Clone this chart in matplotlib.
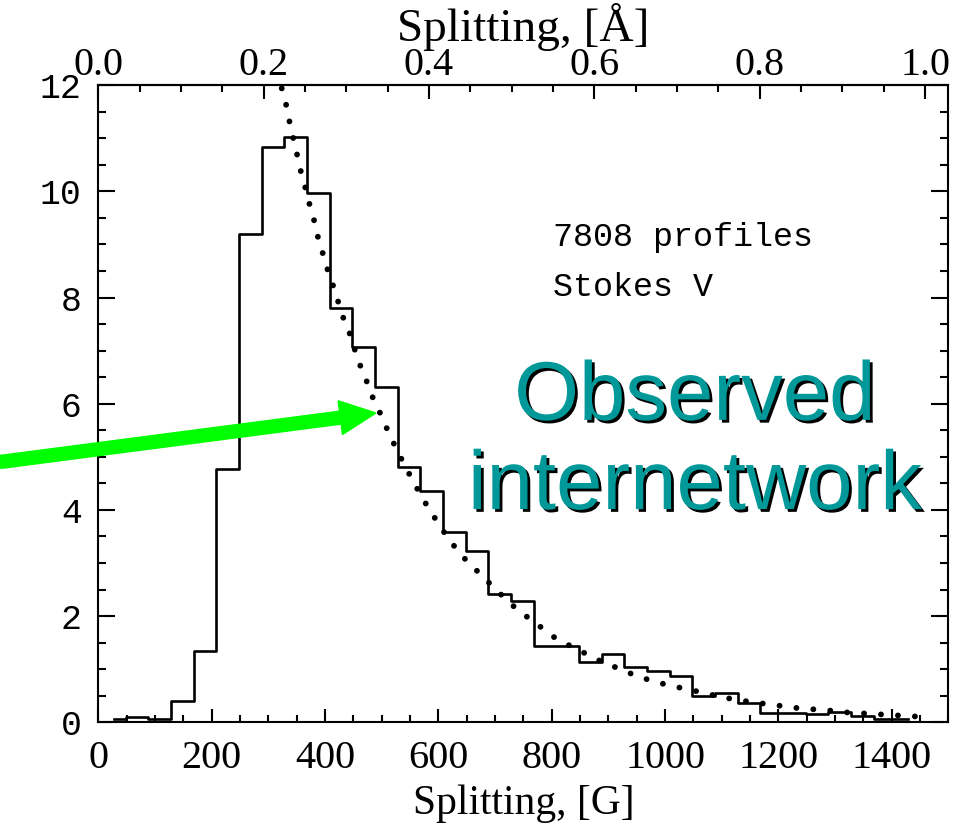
import matplotlib
matplotlib.use("Agg")
import matplotlib.pyplot as plt
import matplotlib.patheffects as pe
from matplotlib.patches import FancyArrow
from matplotlib.transforms import IdentityTransform
from matplotlib.ticker import MultipleLocator, FormatStrFormatter

# Гистограмма расщепления (центры бинов в гауссах, шаг 40 G)
bin_centers_g = [28, 68, 108, 148, 188, 228, 268, 308, 348, 388, 428, 468,
                 508, 548, 588, 628, 668, 708, 748, 788, 828, 868, 908, 948,
                 988, 1028, 1068, 1108, 1148, 1188, 1228, 1268, 1308, 1348,
                 1388, 1428]
counts_pct = [0.07, 0.10, 0.06, 0.41, 1.35, 4.77, 9.20, 10.83, 11.02, 9.97,
              7.80, 7.07, 6.31, 4.81, 4.35, 3.58, 3.22, 2.41, 2.28, 1.44,
              1.44, 1.14, 1.29, 1.05, 0.97, 0.88, 0.50, 0.55, 0.37, 0.18,
              0.18, 0.16, 0.20, 0.12, 0.06, 0.06]

# Аппроксимирующая кривая (точечная линия)
fit_g = [323.6, 331.2, 337.0, 343.6, 350.1, 356.5, 364.7, 371.8, 380.1, 386.4,
         395.3, 403.0, 412.9, 422.4, 430.6, 442.4, 451.2, 460.6, 471.9, 482.4,
         495.3, 507.1, 520.0, 533, 546, 559, 572, 586, 599, 612, 625, 639,
         652, 666.5, 688.2, 710.1, 732.3, 756, 781.2, 804.7, 832.4, 860.6,
         888.3, 916.5, 945.8, 976.5, 1005.8, 1035.3, 1066.5, 1097, 1128.3,
         1160, 1191.1, 1221.8, 1252.9, 1284.1, 1314.6, 1345.9, 1377.6,
         1408.8, 1441.2]
fit_pct = [11.94, 11.64, 11.33, 11.02, 10.72, 10.41, 10.09, 9.79, 9.48, 9.18,
           8.86, 8.57, 8.27, 7.95, 7.66, 7.36, 7.06, 6.76, 6.47, 6.16,
           5.87, 5.58, 5.28, 5.00, 4.73, 4.47, 4.22, 3.98, 3.76, 3.55, 3.36,
           3.17, 3.02, 2.87, 2.64, 2.41, 2.19, 1.99, 1.79, 1.60, 1.44, 1.29,
           1.14, 1.02, 0.89, 0.78, 0.70, 0.63, 0.56, 0.48, 0.42, 0.37, 0.33,
           0.28, 0.25, 0.23, 0.19, 0.17, 0.15, 0.13, 0.11]

G_PER_ANGSTROM = 1459.0

SERIF = "Liberation Serif"
MONO = "Liberation Mono"

fig = plt.figure(figsize=(9.68, 8.35), dpi=100)
ax = fig.add_axes([0.1016, 0.135, 0.8781, 0.763])

ax.step(bin_centers_g, counts_pct, where="mid", color="k", lw=1.9)
ax.plot(fit_g, fit_pct, color="k", lw=4.2, linestyle=(0, (0.01, 2.9)),
        dash_capstyle="round")

ax.set_xlim(0, 1500)
ax.set_ylim(0, 12)

for sp in ax.spines.values():
    sp.set_linewidth(1.5)

# нижняя ось и левая/правая
ax.xaxis.set_major_locator(MultipleLocator(200))
ax.xaxis.set_minor_locator(MultipleLocator(50))
ax.yaxis.set_major_locator(MultipleLocator(2))
ax.yaxis.set_minor_locator(MultipleLocator(0.5))
ax.tick_params(axis="x", which="major", direction="in", length=9.5, width=1.5,
               pad=13, labelsize=29)
ax.tick_params(axis="x", which="minor", direction="in", length=5, width=1.5)
ax.tick_params(axis="y", which="major", direction="in", length=12.5, width=1.5,
               pad=12, labelsize=25, right=True)
ax.tick_params(axis="y", which="minor", direction="in", length=6, width=1.5,
               right=True)
for lab in ax.get_xticklabels():
    lab.set_fontfamily(SERIF)
for lab in ax.get_yticklabels():
    lab.set_fontfamily(MONO)
ax.set_xlabel("Splitting, [G]", fontsize=30, family=SERIF, labelpad=5)

# верхняя ось в ангстремах
top = ax.secondary_xaxis("top", functions=(lambda g: g / G_PER_ANGSTROM,
                                            lambda a: a * G_PER_ANGSTROM))
top.xaxis.set_major_locator(MultipleLocator(0.2))
top.xaxis.set_minor_locator(MultipleLocator(0.05))
top.xaxis.set_major_formatter(FormatStrFormatter("%.1f"))
top.tick_params(which="major", direction="in", length=10, width=1.5, pad=1,
                labelsize=29)
top.tick_params(which="minor", direction="in", length=5, width=1.5)
for lab in top.get_xticklabels():
    lab.set_fontfamily(SERIF)
    lab.set_fontsize(29)
top.set_xlabel("Splitting, [Å]", fontsize=34, family=SERIF, labelpad=4)
top.spines["top"].set_linewidth(1.5)

ax.text(802, 9.14, "7808 profiles", family=MONO, fontsize=24,
        ha="left", va="center")
ax.text(802, 8.18, "Stokes V", family=MONO, fontsize=24,
        ha="left", va="center")

for txt, yv in (("Observed", 6.11), ("internetwork", 4.43)):
    t = ax.text(1053, yv, txt, family="Liberation Sans", fontsize=60,
                color="#009898", ha="center", va="center")
    t.set_path_effects([pe.SimplePatchShadow(offset=(2, -2),
                                             shadow_rgbFace="k", alpha=1.0),
                        pe.Normal()])

# зелёная стрелка (в пикселях холста)
H = 835
arrow = FancyArrow(0, H - 462, 376, 462 - 413, width=13, head_width=34,
                   head_length=36, length_includes_head=True,
                   color="#00ff00", transform=IdentityTransform())
fig.add_artist(arrow)

fig.savefig("out.png", dpi=100)
